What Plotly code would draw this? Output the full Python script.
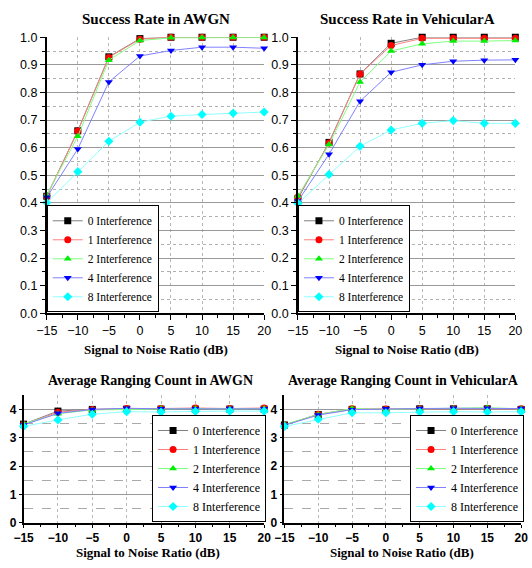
import plotly.graph_objects as go

W, H = 532, 568

snr = [-15, -10, -5, 0, 5, 10, 15, 20]
labels = ["0 Interference", "1 Interference", "2 Interference", "4 Interference", "8 Interference"]

# Success Rate in AWGN
sr_awgn_0 = [0.424, 0.661, 0.929, 0.995, 1.0, 1.0, 1.0, 1.0]
sr_awgn_1 = [0.424, 0.660, 0.927, 0.993, 1.0, 1.0, 1.0, 1.0]
sr_awgn_2 = [0.429, 0.641, 0.917, 0.988, 0.998, 0.999, 0.999, 0.999]
sr_awgn_4 = [0.420, 0.595, 0.838, 0.932, 0.952, 0.964, 0.964, 0.960]
sr_awgn_8 = [0.401, 0.513, 0.623, 0.692, 0.714, 0.720, 0.725, 0.729]

# Success Rate in VehicularA
sr_veh_0 = [0.415, 0.619, 0.867, 0.978, 1.0, 1.0, 1.0, 1.0]
sr_veh_1 = [0.421, 0.617, 0.867, 0.970, 0.996, 0.996, 0.996, 0.996]
sr_veh_2 = [0.425, 0.611, 0.838, 0.950, 0.976, 0.986, 0.986, 0.988]
sr_veh_4 = [0.406, 0.576, 0.768, 0.873, 0.900, 0.913, 0.917, 0.918]
sr_veh_8 = [0.398, 0.503, 0.605, 0.664, 0.688, 0.698, 0.688, 0.688]

# Average Ranging Count in AWGN
rc_awgn_0 = [3.48, 3.94, 4.00, 4.01, 4.01, 4.01, 4.01, 4.01]
rc_awgn_1 = [3.47, 3.90, 4.00, 4.03, 4.03, 4.05, 4.03, 4.05]
rc_awgn_2 = [3.49, 3.85, 3.98, 4.00, 4.03, 4.03, 4.02, 4.03]
rc_awgn_4 = [3.45, 3.86, 4.00, 4.04, 4.02, 4.02, 4.03, 4.02]
rc_awgn_8 = [3.40, 3.63, 3.83, 3.92, 3.91, 3.93, 3.94, 3.94]

# Average Ranging Count in VehicularA
rc_veh_0 = [3.45, 3.82, 4.00, 4.00, 4.02, 4.02, 4.02, 4.00]
rc_veh_1 = [3.45, 3.83, 4.02, 4.01, 4.02, 4.02, 4.03, 4.02]
rc_veh_2 = [3.47, 3.82, 4.03, 4.00, 4.02, 4.03, 4.06, 4.02]
rc_veh_4 = [3.44, 3.80, 3.99, 4.02, 4.03, 4.04, 4.04, 4.03]
rc_veh_8 = [3.40, 3.65, 3.88, 3.88, 3.91, 3.92, 3.91, 3.92]

marker_colors = ["#000000", "#ff0000", "#00ee00", "#0000ff", "#00ffff"]
line_colors = ["#808080", "#ff8080", "#80ff80", "#8080ff", "#90ffff"]
symbols = ["square", "circle", "triangle-up", "triangle-down", "diamond"]


def px_x(p):
    return p / W


def px_y(p):
    return 1 - p / H


panels = [
    ([sr_awgn_0, sr_awgn_1, sr_awgn_2, sr_awgn_4, sr_awgn_8], "x", "y", "legend"),
    ([sr_veh_0, sr_veh_1, sr_veh_2, sr_veh_4, sr_veh_8], "x2", "y2", "legend2"),
    ([rc_awgn_0, rc_awgn_1, rc_awgn_2, rc_awgn_4, rc_awgn_8], "x3", "y3", "legend3"),
    ([rc_veh_0, rc_veh_1, rc_veh_2, rc_veh_4, rc_veh_8], "x4", "y4", "legend4"),
]

fig = go.Figure()
for series, xa, ya, lg in panels:
    for i, ys in enumerate(series):
        fig.add_trace(go.Scatter(
            x=snr, y=ys, name=labels[i], mode="lines+markers",
            xaxis=xa, yaxis=ya, legend=lg, cliponaxis=False,
            line=dict(color=line_colors[i], width=1),
            marker=dict(symbol=symbols[i], color=marker_colors[i], size=7,
                        line=dict(width=0)),
        ))

sans = "Arial, Liberation Sans, sans-serif"
serif = "Times New Roman, Liberation Serif, serif"

top_x = dict(range=[-15, 20], tickvals=[-15, -10, -5, 0, 5, 10, 15, 20],
             showline=True, linecolor="black", linewidth=1.5,
             ticks="outside", ticklen=5, tickcolor="black",
             showgrid=True, gridcolor="#b8b8b8", griddash="dot", gridwidth=1,
             minor=dict(dtick=2.5, ticks="outside", ticklen=3, tickcolor="black", showgrid=False),
             tickfont=dict(family=sans, size=12.5, color="black"), zeroline=False)
top_y = dict(range=[0, 1.0], tickvals=[0, 0.1, 0.2, 0.3, 0.4, 0.5, 0.6, 0.7, 0.8, 0.9, 1.0],
             ticktext=["0.0", "0.1", "0.2", "0.3", "0.4", "0.5", "0.6", "0.7", "0.8", "0.9", "1.0"],
             showline=True, linecolor="black", linewidth=1.5,
             ticks="outside", ticklen=5, tickcolor="black",
             showgrid=True, gridcolor="#999999", gridwidth=1,
             minor=dict(tickvals=[0.05, 0.15, 0.25, 0.35, 0.45, 0.55, 0.65, 0.75, 0.85, 0.95],
                        ticks="outside", ticklen=3, tickcolor="black",
                        showgrid=True, gridcolor="#b0b0b0", griddash="dot", gridwidth=1),
             tickfont=dict(family=sans, size=12.5, color="black"), zeroline=False)

bot_x = dict(top_x)
bot_x.update(ticklen=3, minor=dict(dtick=2.5, ticks="outside", ticklen=2, tickcolor="black", showgrid=False),
             tickfont=dict(family=sans, size=12, color="black", weight="bold"))
bot_y = dict(range=[0, 4.5], tickvals=[0, 1, 2, 3, 4],
             showline=True, linecolor="black", linewidth=1.5,
             ticks="outside", ticklen=3, tickcolor="black",
             showgrid=True, gridcolor="#999999", gridwidth=1,
             minor=dict(tickvals=[0.5, 1.5, 2.5, 3.5], ticks="", showgrid=True,
                        gridcolor="#aaaaaa", griddash="dash", gridwidth=1),
             tickfont=dict(family=sans, size=12, color="black", weight="bold"), zeroline=False)

fig.update_layout(
    width=W, height=H, margin=dict(l=0, r=0, t=0, b=0),
    paper_bgcolor="white", plot_bgcolor="white", showlegend=True,
    xaxis=dict(top_x, domain=[px_x(37), px_x(262)], anchor="y"),
    yaxis=dict(top_y, domain=[px_y(314), px_y(31)], anchor="x"),
    xaxis2=dict(top_x, domain=[px_x(297), px_x(522)], anchor="y2"),
    yaxis2=dict(top_y, domain=[px_y(314), px_y(31)], anchor="x2"),
    xaxis3=dict(bot_x, domain=[px_x(13), px_x(262)], anchor="y3"),
    yaxis3=dict(bot_y, domain=[px_y(529), px_y(398)], anchor="x3"),
    xaxis4=dict(bot_x, domain=[px_x(283), px_x(528)], anchor="y4"),
    yaxis4=dict(bot_y, domain=[px_y(529), px_y(398)], anchor="x4"),
)

leg_common = dict(bgcolor="white", bordercolor="black", borderwidth=1,
                  yanchor="bottom", tracegroupgap=0, itemwidth=30)
fig.update_layout(
    legend=dict(leg_common, xanchor="left", x=px_x(37), y=px_y(313),
                font=dict(family=serif, size=11.5, color="black")),
    legend2=dict(leg_common, xanchor="left", x=px_x(297), y=px_y(313),
                 font=dict(family=serif, size=11.5, color="black")),
    legend3=dict(leg_common, xanchor="right", x=px_x(264), y=px_y(528),
                 font=dict(family=serif, size=12, color="black")),
    legend4=dict(leg_common, xanchor="right", x=px_x(531), y=px_y(528),
                 font=dict(family=serif, size=12, color="black")),
)

ann = []
titles = [
    ("Success Rate in AWGN", 150, 12, 15),
    ("Success Rate in VehicularA", 410, 12, 15),
    ("Average Ranging Count in AWGN", 144, 383, 14),
    ("Average Ranging Count in VehicularA", 406, 383, 14),
]
for t, cx, cy, fs in titles:
    ann.append(dict(text="<b>%s</b>" % t, x=px_x(cx), y=px_y(cy), xref="paper", yref="paper",
                    showarrow=False, xanchor="center", yanchor="middle",
                    font=dict(family=serif, size=fs, color="black")))
xtitles = [(150, 351), (410, 351), (142, 559), (405, 559)]
for cx, cy in xtitles:
    ann.append(dict(text="<b>Signal to Noise Ratio (dB)</b>", x=px_x(cx), y=px_y(cy),
                    xref="paper", yref="paper", showarrow=False, xanchor="center",
                    yanchor="middle", font=dict(family=serif, size=13, color="black")))
fig.update_layout(annotations=ann)

fig.write_html("out.html")
